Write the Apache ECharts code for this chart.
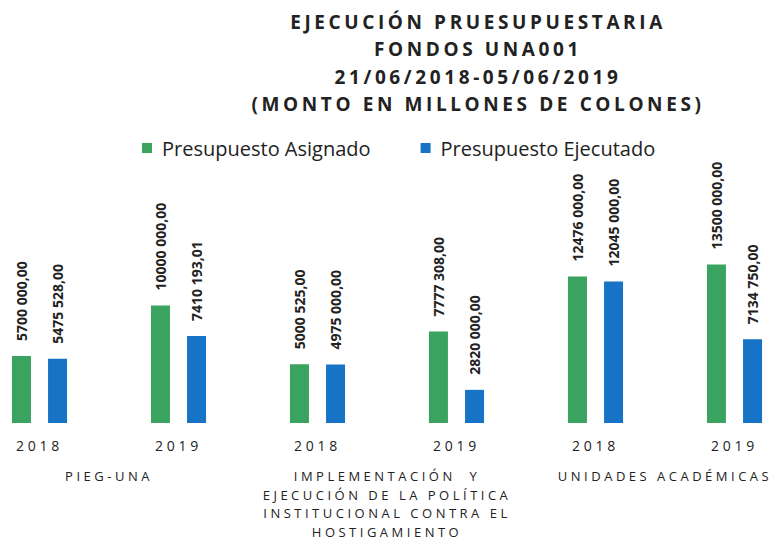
<!DOCTYPE html>
<html>
<head>
<meta charset="utf-8">
<script src="https://cdn.jsdelivr.net/npm/echarts@6/dist/echarts.min.js"></script>
<style>
html,body{margin:0;padding:0;background:#fff;overflow:hidden;width:771px;height:541px;}
#chart{width:834px;height:541px;margin-left:-30px;}
</style>
</head>
<body>
<div id="chart"></div>
<script>
const titleLines = ['EJECUCIÓN PRUESUPUESTARIA', 'FONDOS UNA001', '21/06/2018-05/06/2019', '(MONTO EN MILLONES DE COLONES)'];
const years = ['2018', '2019', '2018', '2019', '2018', '2019'];
const groups = ['PIEG-UNA', 'IMPLEMENTACIÓN  Y\nEJECUCIÓN DE LA POLÍTICA\nINSTITUCIONAL CONTRA EL\nHOSTIGAMIENTO', 'UNIDADES ACADÉMICAS'];
const seriesNames = ['Presupuesto Asignado', 'Presupuesto Ejecutado'];
const asignado = [5700000, 10000000, 5000525, 7777308, 12476000, 13500000];
const ejecutado = [5475528, 7410193.01, 4975000, 2820000, 12045000, 7134750];

function fmt(v) {
  const cents = Math.round(v * 100);
  const intPart = Math.floor(cents / 100);
  const dec = String(cents % 100).padStart(2, '0');
  const hi = Math.floor(intPart / 1000);
  const lo = String(intPart % 1000).padStart(3, '0');
  return (hi > 0 ? hi + ' ' + lo : String(intPart % 1000)) + ',' + dec;
}

const OFF = 30; // chart canvas is shifted left by this many px
const chart = echarts.init(document.getElementById('chart'), null, {renderer: 'svg'});
const labelCfg = {
  show: true, position: 'top', rotate: 90, align: 'left', verticalAlign: 'middle',
  distance: 15, color: '#222', fontWeight: 'bold', fontSize: 14, fontFamily: 'Open Sans',
  formatter: p => fmt(p.value)
};
chart.setOption({
  animation: false,
  title: {
    text: titleLines.join('\n'), left: 473 + OFF, top: 3, textAlign: 'center',
    textStyle: {fontSize: 19, fontWeight: 'bold', color: '#222', fontFamily: 'Open Sans', lineHeight: 27.5}
  },
  legend: {
    data: seriesNames, top: 133, left: 137 + OFF, itemWidth: 10, itemHeight: 10, itemGap: 50,
    icon: 'rect',
    textStyle: {fontSize: 20, color: '#222', fontFamily: 'Open Sans', padding: [0, 0, 0, 5]}
  },
  grid: {left: 0, right: 0, top: 235, bottom: 116, containLabel: false},
  xAxis: [
    {type: 'category', data: years, axisLine: {show: false}, axisTick: {show: false},
     axisLabel: {margin: 15, fontSize: 14, color: '#222', fontFamily: 'Open Sans'}},
    {type: 'category', data: groups, position: 'bottom', offset: 44, axisLine: {show: false}, axisTick: {show: false},
     axisLabel: {margin: 0, fontSize: 13, lineHeight: 18.5, color: '#222', fontFamily: 'Open Sans', verticalAlign: 'top'}}
  ],
  yAxis: {type: 'value', min: 0, max: 16000000, show: false, splitLine: {show: false}},
  series: [
    {name: seriesNames[0], type: 'bar', data: asignado, barWidth: 19, barGap: '90%', itemStyle: {color: '#3aa35f'}, label: labelCfg},
    {name: seriesNames[1], type: 'bar', data: ejecutado, barWidth: 19, barGap: '90%', itemStyle: {color: '#1773c6'}, label: labelCfg}
  ]
});

function spacing() {
  const spaced = {};
  titleLines.forEach(t => spaced[t] = '3.6px');
  years.forEach(t => spaced[t] = '3.8px');
  groups.forEach(g => g.split('\n').forEach(t => spaced[t] = '3.5px'));
  document.querySelectorAll('#chart svg text, #chart svg tspan').forEach(el => {
    const t = el.textContent;
    if (spaced[t]) el.style.letterSpacing = spaced[t];
  });
}
spacing();
chart.on('finished', spacing);
</script>
</body>
</html>
